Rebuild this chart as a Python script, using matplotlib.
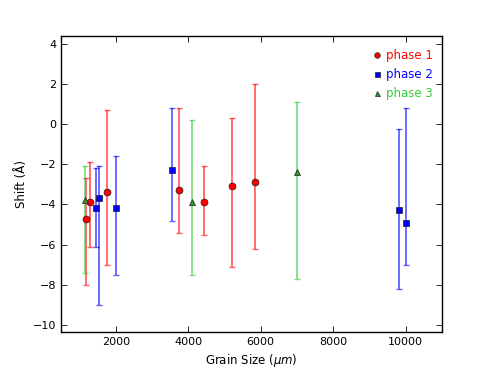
import numpy as np
import matplotlib
matplotlib.use("Agg")
from matplotlib import pyplot as plt
from matplotlib.colors import to_rgba

# phase 1 (red circles)
p1_x = [1190, 1300, 1751, 3751, 4443, 5199, 5853]
p1_y = [-4.7, -3.9, -3.4, -3.3, -3.9, -3.1, -2.9]
p1_hi = [-2.7, -1.9, 0.7, 0.8, -2.1, 0.3, 2.0]
p1_lo = [-8.0, -6.1, -7.0, -5.4, -5.5, -7.1, -6.2]

# phase 2 (blue squares)
p2_x = [1447, 1549, 2000, 3557, 9820, 10014]
p2_y = [-4.2, -3.7, -4.2, -2.3, -4.3, -4.9]
p2_hi = [-2.2, -2.1, -1.6, 0.8, -0.25, 0.8]
p2_lo = [-6.1, -9.0, -7.5, -4.8, -8.2, -7.0]

# phase 3 (green triangles)
p3_x = [1143, 4111, 7007]
p3_y = [-3.8, -3.9, -2.4]
p3_hi = [-2.1, 0.2, 1.1]
p3_lo = [-7.4, -7.5, -7.7]

plt.rcParams["font.family"] = "DejaVu Sans"
plt.rcParams["font.size"] = 8

fig = plt.figure(figsize=(4.91, 3.70), dpi=100)
ax = fig.add_axes([0.125, 0.103, 0.775, 0.8])

series = [
    (p1_x, p1_y, p1_lo, p1_hi, "o", "red", "red", 5.0, "phase 1", "red"),
    (p2_x, p2_y, p2_lo, p2_hi, "s", "blue", "blue", 4.5, "phase 2", "blue"),
    (p3_x, p3_y, p3_lo, p3_hi, "^", "#2a9a2a", "#33cc33", 4.5, "phase 3", "#33cc33"),
]

for x, y, lo, hi, mk, fc, ec, ms, label, tc in series:
    y = np.asarray(y)
    yerr = [y - np.asarray(lo), np.asarray(hi) - y]
    ax.errorbar(x, y, yerr=yerr, fmt="none", ecolor=to_rgba(ec, 0.62),
                elinewidth=1.3, capsize=2.5, capthick=1.0, zorder=2)
    ax.plot(x, y, linestyle="none", marker=mk, markersize=ms,
            markerfacecolor=fc, markeredgecolor="#202020", markeredgewidth=0.5,
            label=label, zorder=3)

ax.set_xlim(500, 11000)
ax.set_ylim(-10.35, 4.4)
ax.set_xticks([2000, 4000, 6000, 8000, 10000])
ax.set_yticks(np.arange(-10, 5, 2))
ax.tick_params(direction="in", top=True, right=True, length=4, width=0.6,
               labelsize=8)
for s in ax.spines.values():
    s.set_linewidth(1.0)

ax.set_xlabel(r"Grain Size ($\mu m$)", fontsize=8.5)
ax.set_ylabel("Shift (Å)", fontsize=8.5)

leg = ax.legend(loc="upper right", frameon=False, numpoints=1,
                handlelength=0.6, handletextpad=0.5, markerscale=0.8,
                fontsize=8.5, labelspacing=0.5, borderaxespad=0.35,
                bbox_to_anchor=(1.0, 0.985))
for txt, (*_, tc) in zip(leg.get_texts(), series):
    txt.set_color(tc)

fig.savefig("out.png", dpi=100)
